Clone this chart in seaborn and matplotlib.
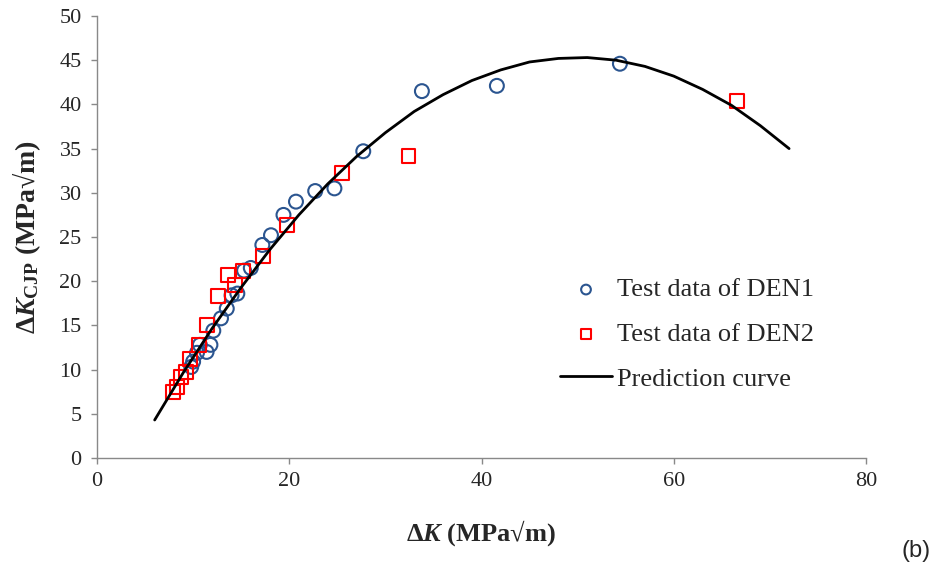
import numpy as np
import pandas as pd
import seaborn as sns
import matplotlib
matplotlib.use("Agg")
import matplotlib.pyplot as plt

# test data, DEN1 (circles)
den1_dk = [54.4, 41.6, 33.8, 27.7, 24.7, 22.7, 20.7, 19.4, 18.1, 17.2, 16.0, 15.3,
           14.6, 14.0, 13.5, 12.9, 12.1, 11.8, 11.4, 10.7, 10.4, 10.0, 9.8]
den1_kcjp = [44.6, 42.1, 41.5, 34.7, 30.5, 30.2, 29.0, 27.5, 25.2, 24.1, 21.5, 21.2,
             18.6, 18.4, 16.9, 15.8, 14.4, 12.8, 12.0, 12.8, 11.9, 10.9, 10.3]

# test data, DEN2 (squares)
den2_dk = [7.9, 8.3, 8.7, 9.3, 9.7, 10.6, 11.4, 12.6, 13.6, 14.4, 15.2, 17.3,
           19.8, 25.5, 32.4, 66.6]
den2_kcjp = [7.5, 8.0, 9.2, 9.7, 11.2, 12.8, 15.0, 18.3, 20.7, 19.6, 21.2, 22.9,
             26.4, 32.2, 34.2, 40.4]

# prediction curve
curve_dk = [6, 9, 12, 15, 18, 21, 24, 27, 30, 33, 36, 39, 42, 45, 48, 51,
            54, 57, 60, 63, 66, 69, 72]
curve_kcjp = [4.3, 9.7, 14.7, 19.3, 23.6, 27.5, 31.0, 34.1, 36.8, 39.2, 41.1,
              42.7, 43.9, 44.8, 45.2, 45.3, 45.0, 44.3, 43.2, 41.7, 39.9, 37.6, 35.0]

sns.set_style("white")
plt.rcParams['font.family'] = ['Liberation Serif', 'DejaVu Serif']
plt.rcParams['mathtext.fontset'] = 'custom'
plt.rcParams['mathtext.rm'] = 'Liberation Serif:bold'
plt.rcParams['mathtext.bf'] = 'Liberation Serif:bold'
plt.rcParams['mathtext.it'] = 'Liberation Serif:italic:bold'

fig = plt.figure(figsize=(9.35, 5.74), dpi=100)
ax = fig.add_axes([97/935, 1-458/574, (866-97)/935, (458-16)/574])

blue = '#2B5590'
red = '#FF0000'

sns.scatterplot(x=den1_dk, y=den1_kcjp, marker='o', s=100, color=blue,
                facecolor='none', edgecolor=blue, linewidth=1.5,
                label='Test data of DEN1', ax=ax)
sns.scatterplot(x=den2_dk, y=den2_kcjp, marker='s', s=100, color=red,
                facecolor='none', edgecolor=red, linewidth=1.5,
                label='Test data of DEN2', ax=ax)
sns.lineplot(x=curve_dk, y=curve_kcjp, sort=False, color='black', linewidth=2,
             label='Prediction curve', ax=ax)

ax.set_xlim(0, 80)
ax.set_ylim(0, 50)
ax.set_xticks(np.arange(0, 81, 20))
ax.set_yticks(np.arange(0, 51, 5))
ax.tick_params(labelsize=16, length=4, width=1, color='#898989', direction='out',
               left=True, bottom=True)
ax.tick_params(axis='y', pad=7)
ax.tick_params(axis='x', pad=6)
for side in ['top', 'right']:
    ax.spines[side].set_visible(False)
for side in ['left', 'bottom']:
    ax.spines[side].set_color('#898989')
    ax.spines[side].set_linewidth(1)

ax.set_xlabel(r'$\mathrm{Δ}\mathit{K}\ \mathrm{(MPa√m)}$', fontsize=19)
ax.set_ylabel(r'$\mathrm{Δ}\mathit{K}_{\mathrm{CJP}}\ \mathrm{(MPa√m)}$', fontsize=20)
ax.xaxis.set_label_coords(0.5, -0.135)
ax.yaxis.set_label_coords(-0.07, 0.5)

leg = ax.legend(loc='upper left', bbox_to_anchor=(560/935, 1-278/574),
                bbox_transform=fig.transFigure, frameon=False, fontsize=19,
                handlelength=1.97, handletextpad=0.2, labelspacing=0.8,
                borderpad=0, borderaxespad=0, markerscale=0.7)

fig.text(916/935, 1-551/574, '(b)', family='Liberation Sans', fontsize=17,
         ha='center', va='center')

plt.savefig('out.png', dpi=100, facecolor='w')
